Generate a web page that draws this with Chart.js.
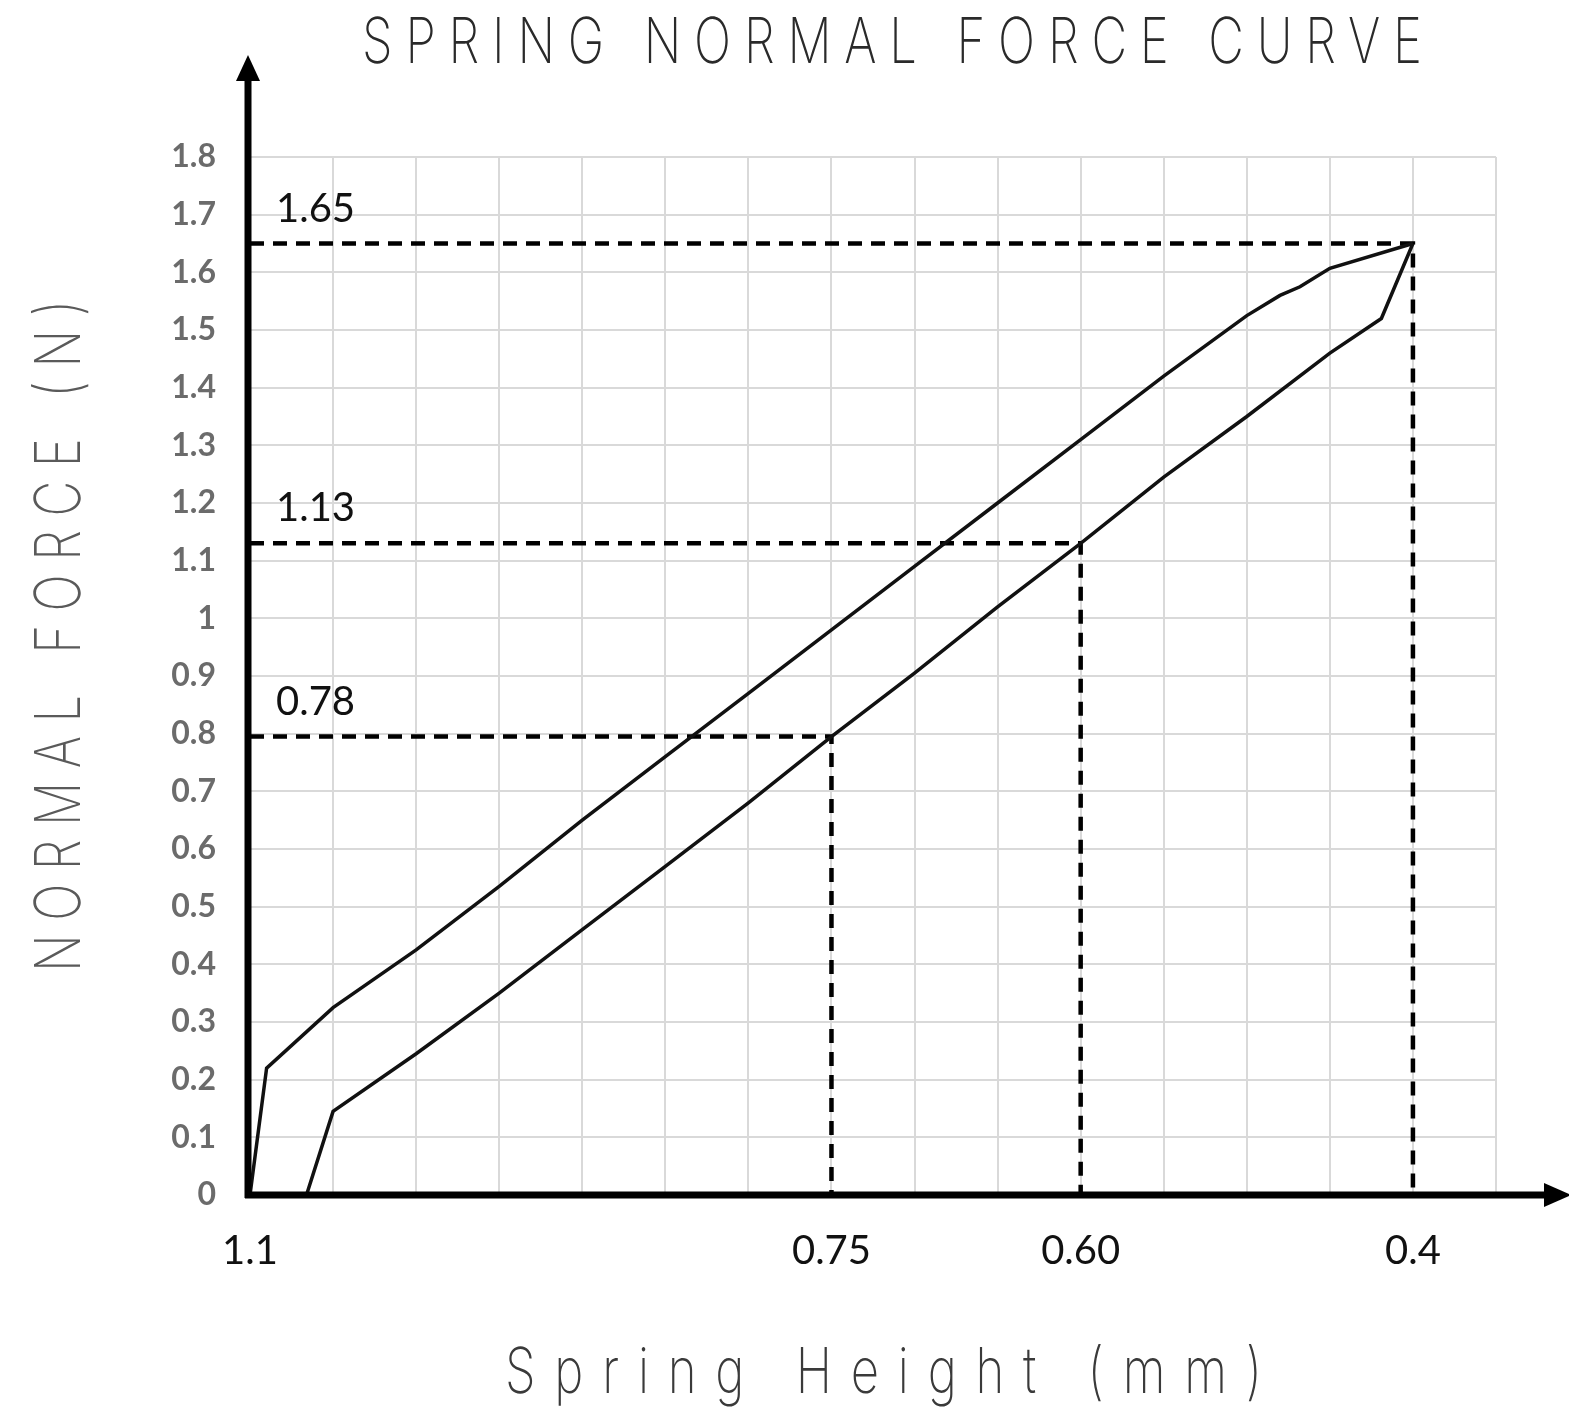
<!DOCTYPE html>
<html>
<head>
<meta charset="utf-8">
<script src="https://cdn.jsdelivr.net/npm/chart.js@4"></script>
<style>
  html, body { margin: 0; padding: 0; background: #fff; }
  #spring-chart { display: block; }
</style>
</head>
<body>
<canvas id="spring-chart" width="1569" height="1413" style="width:1569px;height:1413px"></canvas>
<script>
'use strict';

// loading curve (upper)
const loadX = [1.1, 1.09, 1.05, 1.0, 0.95, 0.9, 0.85, 0.8, 0.75, 0.7, 0.65, 0.6, 0.55, 0.5, 0.48, 0.468, 0.45, 0.4];
const loadY = [0, 0.22, 0.325, 0.425, 0.535, 0.65, 0.76, 0.87, 0.98, 1.09, 1.2, 1.31, 1.42, 1.525, 1.56, 1.575, 1.607, 1.65];

// unloading curve (lower)
const unloadX = [1.066, 1.05, 1.0, 0.95, 0.9, 0.85, 0.8, 0.75, 0.7, 0.65, 0.6, 0.55, 0.5, 0.45, 0.419, 0.4];
const unloadY = [0, 0.145, 0.245, 0.35, 0.46, 0.57, 0.68, 0.795, 0.905, 1.02, 1.13, 1.245, 1.35, 1.46, 1.52, 1.65];

// dashed reference lines
const guideX = [0.75, 0.6, 0.4];
const guideY = [0.795, 1.13, 1.65];
const guideLabels = ['0.78', '1.13', '1.65'];

const xTickValues = [1.1, 0.75, 0.6, 0.4];
const xTickLabels = ['1.1', '0.75', '0.60', '0.4'];

const titleText = 'SPRING NORMAL FORCE CURVE';
const xTitleText = 'Spring Height (mm)';
const yTitleText = 'NORMAL FORCE (N)';

const thinFont = '200 63px Inter, "DejaVu Sans", sans-serif';

function toPoints(xs, ys) {
    return xs.map(function (x, i) { return {x: x, y: ys[i]}; });
}

let datasets = [
    {data: toPoints(loadX, loadY), borderColor: '#111', borderWidth: 3.5},
    {data: toPoints(unloadX, unloadY), borderColor: '#111', borderWidth: 3.5},
];
guideX.forEach(function (gx, i) {
    datasets.push({
        data: [{x: 1.1, y: guideY[i]}, {x: gx, y: guideY[i]}, {x: gx, y: 0}],
        borderColor: '#000',
        borderWidth: 4.5,
        borderDash: [14, 9],
    });
});
datasets.forEach(function (d) {
    d.showLine = true;
    d.pointRadius = 0;
    d.tension = 0;
    d.fill = false;
});

// draws text spread to a given width, squeezed a bit horizontally
function drawSpaced(ctx, text, left, baseline, width, color, squeeze) {
    ctx.save();
    ctx.font = thinFont;
    ctx.fillStyle = color;
    ctx.textAlign = 'left';
    ctx.textBaseline = 'alphabetic';
    ctx.letterSpacing = '0px';
    let w0 = ctx.measureText(text).width;
    let sp = (width / squeeze - w0) / (text.length - 1);
    ctx.translate(left, baseline);
    ctx.scale(squeeze, 1);
    ctx.letterSpacing = sp + 'px';
    ctx.fillText(text, 0, 0);
    ctx.restore();
}

const decorPlugin = {
    id: 'decor',
    afterDatasetsDraw: function (chart) {
        let ctx = chart.ctx;
        let xs = chart.scales.x;
        let ys = chart.scales.y;
        let ox = xs.getPixelForValue(1.1) - 2;
        let oy = ys.getPixelForValue(0);

        ctx.save();
        ctx.strokeStyle = '#000';
        ctx.fillStyle = '#000';
        ctx.lineWidth = 7;
        ctx.beginPath();
        ctx.moveTo(ox, oy + 3);
        ctx.lineTo(ox, 78);
        ctx.moveTo(ox - 3, oy);
        ctx.lineTo(chart.width - 24, oy);
        ctx.stroke();

        ctx.beginPath();
        ctx.moveTo(ox, 55);
        ctx.lineTo(ox - 12, 81);
        ctx.lineTo(ox + 12, 81);
        ctx.closePath();
        ctx.fill();

        ctx.beginPath();
        ctx.moveTo(chart.width + 2, oy);
        ctx.lineTo(chart.width - 25, oy - 12);
        ctx.lineTo(chart.width - 25, oy + 12);
        ctx.closePath();
        ctx.fill();

        ctx.font = '40px Lato, sans-serif';
        ctx.fillStyle = '#111';
        ctx.textBaseline = 'alphabetic';
        guideLabels.forEach(function (t, i) {
            ctx.fillText(t, ox + 28, ys.getPixelForValue(guideY[i]) - 22);
        });
        ctx.restore();
    },
    afterDraw: function (chart) {
        let ctx = chart.ctx;
        drawSpaced(ctx, titleText, 362, 63, 1060, '#2a2a2a', 0.78);
        drawSpaced(ctx, xTitleText, 505, 1393, 757, '#3a3a3a', 0.78);
        ctx.save();
        ctx.translate(80, 972);
        ctx.rotate(-Math.PI / 2);
        drawSpaced(ctx, yTitleText, 0, 0, 672, '#5a5a5a', 0.78);
        ctx.restore();
    },
};

new Chart(document.getElementById('spring-chart').getContext('2d'), {
    type: 'scatter',
    data: {datasets: datasets},
    options: {
        responsive: false,
        animation: false,
        layout: {padding: {left: 0, right: 73, top: 157, bottom: 0}},
        plugins: {
            legend: {display: false},
            tooltip: {enabled: false},
        },
        scales: {
            x: {
                type: 'linear',
                reverse: true,
                min: 0.35,
                max: 1.1,
                afterFit: function (scale) { scale.height = 218; },
                border: {display: false},
                grid: {color: '#d9d9d9', lineWidth: 2, drawTicks: false},
                ticks: {
                    stepSize: 0.05,
                    autoSkip: false,
                    maxRotation: 0,
                    padding: 32,
                    color: '#111',
                    font: {family: 'Lato, sans-serif', size: 40},
                    callback: function (value) {
                        let i = xTickValues.findIndex(function (v) { return Math.abs(v - value) < 1e-6; });
                        return i >= 0 ? xTickLabels[i] : '';
                    },
                },
            },
            y: {
                min: 0,
                max: 1.8,
                afterFit: function (scale) { scale.width = 250; },
                border: {display: false},
                grid: {color: '#d9d9d9', lineWidth: 2, drawTicks: false},
                ticks: {
                    stepSize: 0.1,
                    padding: 34,
                    color: '#6b6b6b',
                    font: {family: 'Lato, sans-serif', size: 32, weight: 'bold'},
                    callback: function (value) { return String(Number(value.toFixed(1))); },
                },
            },
        },
    },
    plugins: [decorPlugin],
});
</script>
</body>
</html>
